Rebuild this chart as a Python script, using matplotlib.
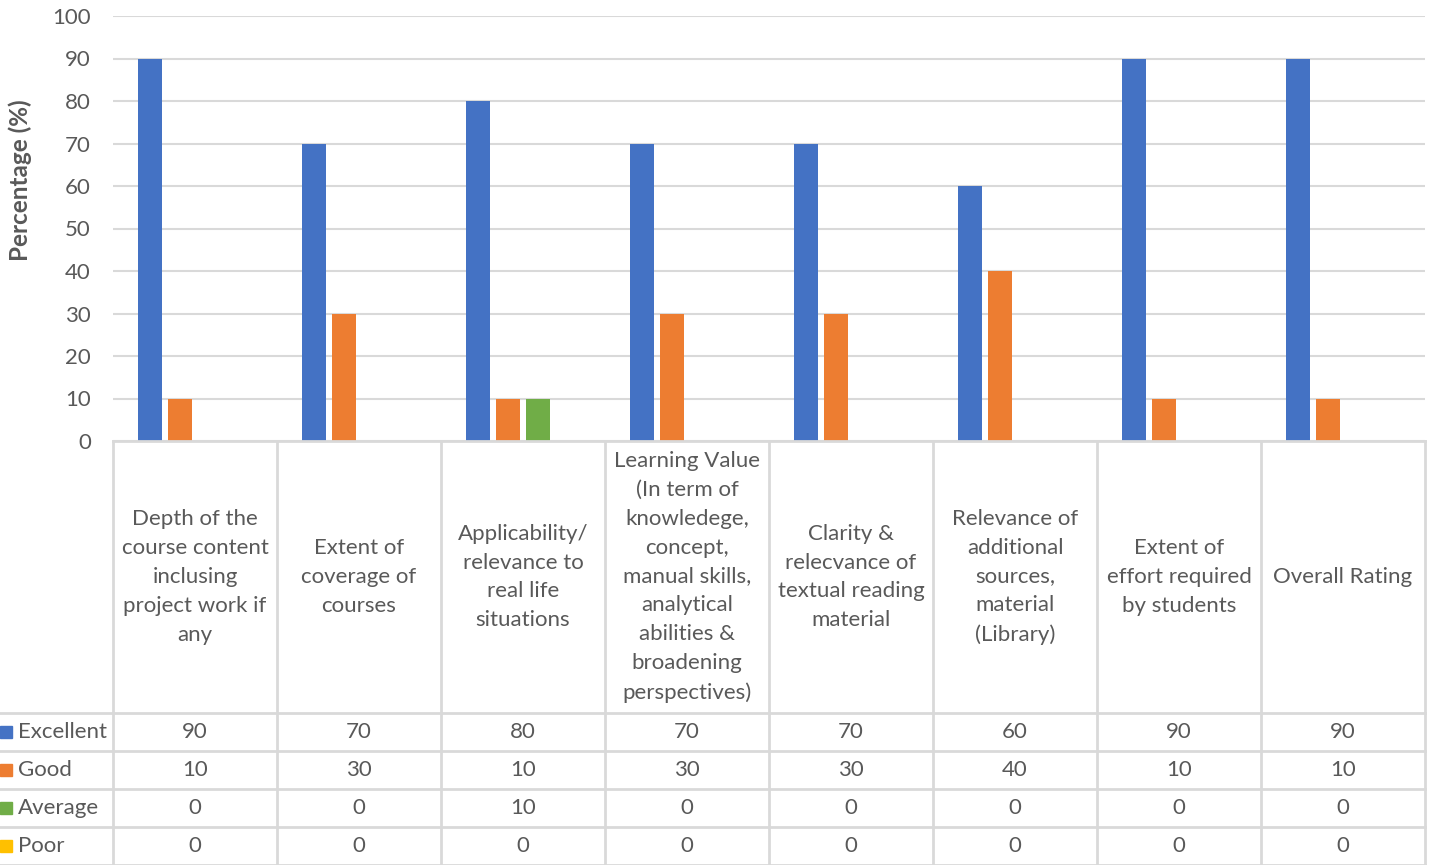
import numpy as np
import matplotlib
matplotlib.use("Agg")
import matplotlib.pyplot as plt
from matplotlib.patches import Rectangle

plt.rcParams['font.family'] = ['Lato', 'DejaVu Sans']

categories = [
    "Depth of the\ncourse content\ninclusing\nproject work if\nany",
    "Extent of\ncoverage of\ncourses",
    "Applicability/\nrelevance to\nreal life\nsituations",
    "Learning Value\n(In term of\nknowledege,\nconcept,\nmanual skills,\nanalytical\nabilities &\nbroadening\nperspectives)",
    "Clarity &\nrelecvance of\ntextual reading\nmaterial",
    "Relevance of\nadditional\nsources,\nmaterial\n(Library)",
    "Extent of\neffort required\nby students",
    "Overall Rating",
]
series_names = ["Excellent", "Good", "Average", "Poor"]
excellent = [90, 70, 80, 70, 70, 60, 90, 90]
good = [10, 30, 10, 30, 30, 40, 10, 10]
average = [0, 0, 10, 0, 0, 0, 0, 0]
poor = [0, 0, 0, 0, 0, 0, 0, 0]
series = [excellent, good, average, poor]
colors = ["#4472c4", "#ed7d31", "#70ad47", "#ffc000"]

W, H = 1434, 865
fig = plt.figure(figsize=(W / 100, H / 100), dpi=100)

# pixel layout
left, right, top, bottom = 113, 1425, 16, 441
hdr_bottom = 713
row_h = 38
grid_c = "#d9d9d9"
text_c = "#595959"
fs = 16

ax = fig.add_axes([left / W, 1 - bottom / H, (right - left) / W, (bottom - top) / H])
n = len(categories)
x = np.arange(n)
step = 30 / 164
bw = 24 / 164
for i, (name, vals) in enumerate(zip(series_names, series)):
    ax.bar(x + (i - 1.5) * step, vals, width=bw, color=colors[i], zorder=3)
ax.set_xlim(-0.5, n - 0.5)
ax.set_ylim(0, 100)
ax.set_yticks(range(0, 101, 10))
ax.grid(axis='y', color=grid_c, linewidth=1.5, zorder=0)
ax.set_xticks([])
for s in ax.spines.values():
    s.set_visible(False)
ax.tick_params(axis='y', length=0, pad=16, labelsize=fs, labelcolor=text_c)

fig.text(20 / W, 1 - 180 / H, "Percentage (%)", rotation=90, ha='center', va='center',
         fontsize=17.5, fontweight='bold', color=text_c)

# data table drawn in figure pixel coords
tx = fig.add_axes([0, 0, 1, 1], facecolor='none')
tx.set_xlim(0, W)
tx.set_ylim(H, 0)
tx.axis('off')
col_w = (right - left) / n
lw = 2
for k in range(n + 1):
    xx = left + k * col_w
    tx.plot([xx, xx], [bottom, H], color=grid_c, lw=lw)
tx.plot([left, right], [bottom, bottom], color=grid_c, lw=lw)
for r in range(len(series) + 1):
    yy = hdr_bottom + r * row_h
    tx.plot([0, right], [yy, yy], color=grid_c, lw=lw)

for k, cat in enumerate(categories):
    tx.text(left + (k + 0.5) * col_w, (bottom + hdr_bottom) / 2, cat, ha='center', va='center',
            fontsize=fs, color=text_c, linespacing=1.56)

for r, (name, vals) in enumerate(zip(series_names, series)):
    yc = hdr_bottom + (r + 0.5) * row_h
    tx.add_patch(Rectangle((0, yc - 6), 12, 12, color=colors[r]))
    tx.text(18, yc, name, ha='left', va='center', fontsize=fs, color=text_c)
    for k, v in enumerate(vals):
        tx.text(left + (k + 0.5) * col_w, yc, str(v), ha='center', va='center',
                fontsize=fs, color=text_c)

fig.savefig("out.png", dpi=100)
